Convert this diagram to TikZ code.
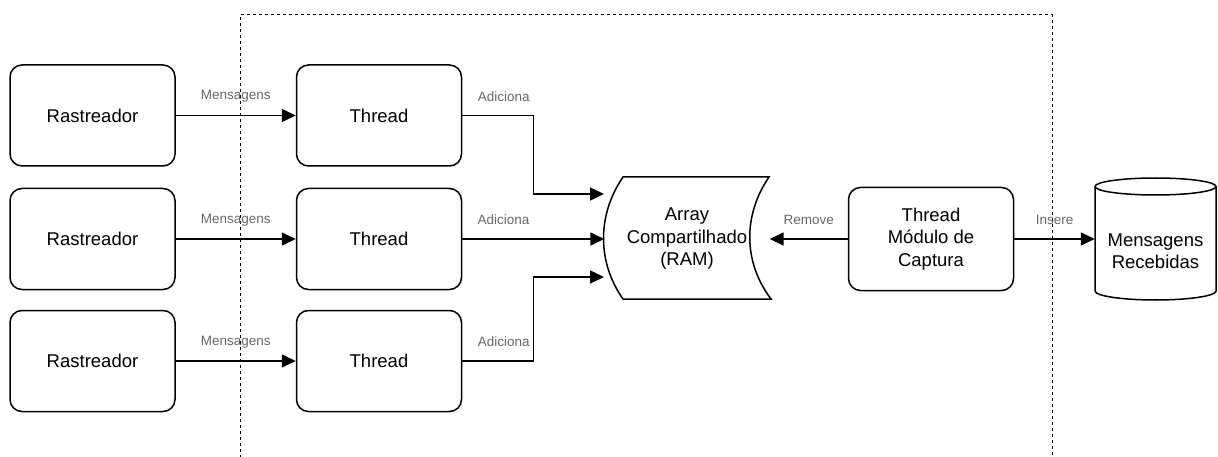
\documentclass[tikz,border=0pt]{standalone}
\usepackage{fontspec}
\setmainfont{Liberation Sans}
\usetikzlibrary{arrows.meta}
\begin{document}
\begin{tikzpicture}[x=1pt,y=-1pt,
  txt/.style={font=\fontsize{18.5}{22.5}\selectfont, align=center, inner sep=0pt},
  proc/.style={txt, draw=black, line width=1.5pt, rounded corners=12pt,
    minimum width=165pt, minimum height=101pt},
  shapeline/.style={draw=black, line width=1.5pt},
  flow/.style={line width=1.5pt, -{Triangle[length=14pt,width=13pt]}},
  lbl/.style={font=\fontsize{13.5}{16}\selectfont, text=black!60, inner sep=0pt},
  frame/.style={line width=1pt, dash pattern=on 3pt off 3pt},
]
\useasboundingbox (0,0) rectangle (1218,457);

% process boundary (open at the bottom)
\draw[frame] (240,470) -- (240,15) -- (1052,15) -- (1052,470);

% trackers
\node[proc] (r1) at (92.5,115.5) {Rastreador};
\node[proc] (r2) at (92.5,239)   {Rastreador};
\node[proc] (r3) at (92.5,361)   {Rastreador};

% receiving threads
\node[proc] (t1) at (379,115.5) {Thread};
\node[proc] (t2) at (379,239)   {Thread};
\node[proc] (t3) at (379,361)   {Thread};

% shared array (data storage shape)
\node[txt, minimum width=165pt, minimum height=122pt] (arr) at (687,239)
  {Array\\Compartilhado\\(RAM)};
\draw[shapeline] (623,177) -- (769,177)
  .. controls (743,215) and (743,262) .. (771,299) -- (623,299)
  .. controls (597,262) and (597,215) .. cycle;
\coordinate (arr-in1) at (604,194);
\coordinate (arr-in3) at (604,277);

% capture module thread
\node[proc, minimum height=103pt] (mod) at (931,239) {Thread\\Módulo de\\Captura};

% database cylinder
\node[minimum width=121pt, minimum height=122pt, inner sep=0pt] (db) at (1155.5,239) {};
\draw[shapeline] (1095,186.5) -- (1095,291)
  arc[start angle=180, end angle=0, x radius=60.5, y radius=9] -- (1216,186.5);
\draw[shapeline] (1155.5,186.5) ellipse [x radius=60.5, y radius=8.5];
\node[txt] (dbtext) at ([yshift=-12pt]db.center) {Mensagens\\Recebidas};

% messages from trackers
\draw[flow] (r1.east) -- node[lbl, yshift=19pt] {Mensagens} (t1.west);
\draw[flow] (r2.east) -- node[lbl, yshift=19pt] {Mensagens} (t2.west);
\draw[flow] (r3.east) -- node[lbl, yshift=19pt] {Mensagens} (t3.west);

% threads add to the shared array
\draw[flow] (t1.east) -- node[lbl, yshift=19pt, xshift=6pt] {Adiciona} ++(71,0) |- (arr-in1);
\draw[flow] (t2.east) -- node[lbl, yshift=19pt, pos=0.29] {Adiciona} (arr.west);
\draw[flow] (t3.east) -- node[lbl, yshift=19pt, xshift=6pt] {Adiciona} ++(71,0) |- (arr-in3);

% capture module removes and stores
\draw[flow] (mod.west) -- node[lbl, yshift=19pt] {Remove} (arr.east);
\draw[flow] (mod.east) -- node[lbl, yshift=19pt] {Insere} (db.west);
\end{tikzpicture}
\end{document}
